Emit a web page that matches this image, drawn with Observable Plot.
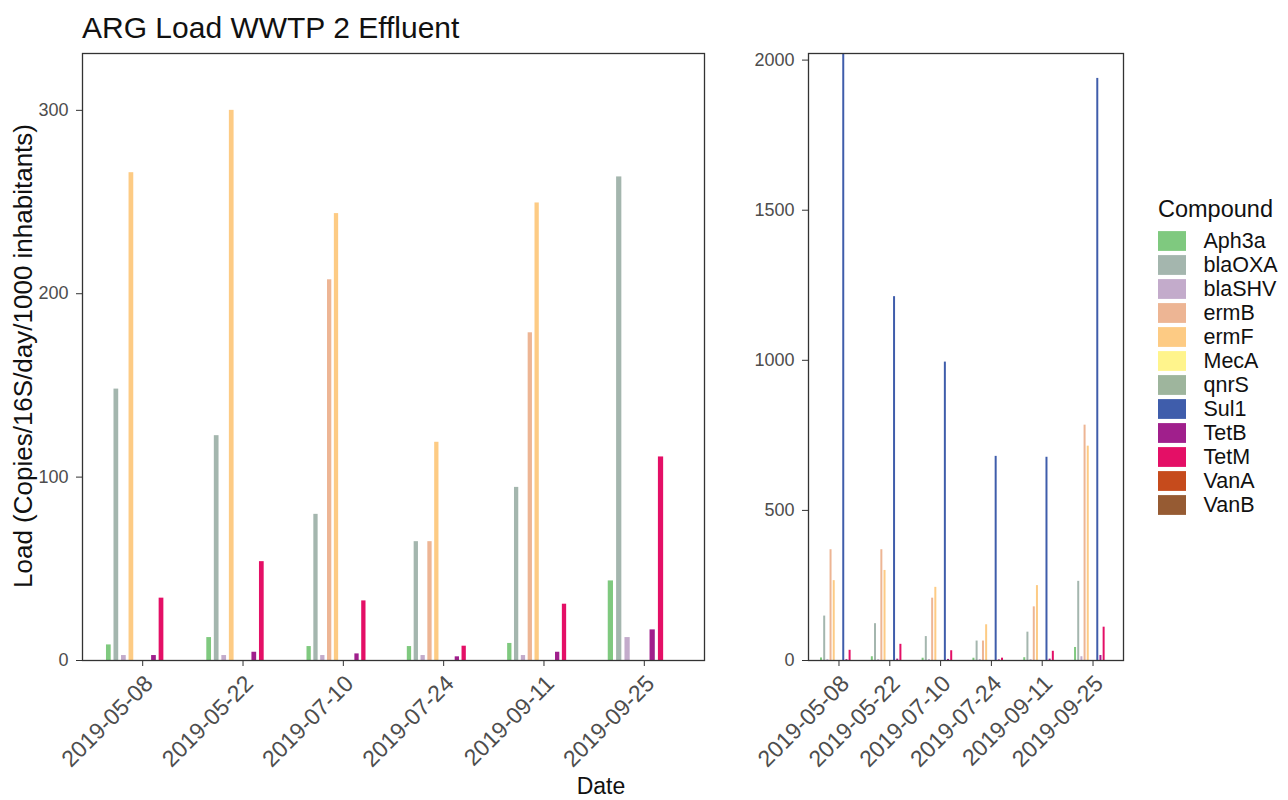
<!DOCTYPE html>
<html><head><meta charset="utf-8">
<script src="https://cdn.jsdelivr.net/npm/d3@7"></script>
<script src="https://cdn.jsdelivr.net/npm/@observablehq/plot@0.6"></script>
<style>
body{margin:0;background:#fff;}
#wrap{position:relative;width:1288px;height:800px;background:#fff;font-family:"Liberation Sans",Arial,sans-serif;overflow:hidden;}
#wrap > *{position:absolute;}
</style></head><body><div id="wrap"></div>
<script>
// ---- data ----
const dates = ["2019-05-08","2019-05-22","2019-07-10","2019-07-24","2019-09-11","2019-09-25"];
const compounds = ["Aph3a","blaOXA","blaSHV","ermB","ermF","MecA","qnrS","Sul1","TetB","TetM","VanA","VanB"];
const colors = ["#7fc97f","#a4b6ae","#c3abcb","#edb594","#fdcb84","#fff48c","#9eb59d","#3f5dab","#a01f8c","#e40f66","#c64b1c","#965b33"];
const Aph3a  = [8.5, 12.5, 7.6, 7.6, 9.3, 43.4];
const blaOXA = [148, 122.6, 79.7, 64.8, 94.4, 263.7];
const blaSHV = [2.7, 2.7, 2.7, 2.7, 2.7, 12.5];
const ermB   = [369, 369, 207.6, 64.8, 178.7, 784];
const ermF   = [266, 300, 243.7, 119, 249.5, 714];
const MecA   = [0, 0, 0, 0, 0, 0];
const qnrS   = [0, 0, 0, 0, 0, 0];
const Sul1   = [2500, 1212, 994, 680, 677, 1939];
const TetB   = [2.7, 4.5, 3.6, 2.0, 4.5, 16.7];
const TetM   = [34, 53.9, 32.5, 7.8, 30.7, 111];
const VanA   = [0, 0, 0, 0, 0, 0];
const VanB   = [0, 0, 0, 0, 0, 0];
const leftTicks = [0, 100, 200, 300];
const rightTicks = [0, 500, 1000, 1500, 2000];

const series = [Aph3a, blaOXA, blaSHV, ermB, ermF, MecA, qnrS, Sul1, TetB, TetM, VanA, VanB];
const rows = compounds.flatMap((c, ci) => dates.map((d, di) => ({date: d, di: di + 1, compound: c, value: series[ci][di]})));

const LEFT_MAX = 331, RIGHT_MAX = 2022;
const WD = 0.75, WB = 0.47; // dodge width, bar width (band units)
function dodge(rs) {
  const out = [];
  for (const [, grp] of d3.group(rs, r => r.di)) {
    const n = grp.length;
    grp.forEach((r, i) => {
      const c = r.di + WD * ((i + 0.5) / n - 0.5);
      out.push({...r, x1: c - WB / n / 2, x2: c + WB / n / 2});
    });
  }
  return out;
}
const leftBars = dodge(rows.filter(r => r.value <= LEFT_MAX));
const rightBars = dodge(rows);

const font = '"Liberation Sans", Arial, sans-serif';
const colorScale = {domain: compounds, range: colors};

function panel({width, marginLeft, marginRight, ymax, ticks, bars}) {
  return Plot.plot({
    width, height: 800, marginLeft, marginRight, marginTop: 53, marginBottom: 140,
    style: {fontFamily: font, background: "transparent", overflow: "visible"},
    x: {domain: [0.4, 6.6], axis: null},
    y: {domain: [0, ymax], clamp: true, axis: null},
    color: colorScale,
    marks: [
      Plot.rect(bars, {x1: "x1", x2: "x2", y1: 0, y2: "value", fill: "compound"}),
      Plot.frame({stroke: "#333", strokeWidth: 1.3}),
      Plot.axisY({ticks, tickFormat: d => String(d), tickSize: 6, tickPadding: 8, fontSize: 18, fill: "#4d4d4d", stroke: "#333", label: null}),
      Plot.axisX({ticks: [1, 2, 3, 4, 5, 6], tickFormat: i => dates[i - 1], tickSize: 6, tickPadding: 7,
        tickRotate: -45, textAnchor: "end", lineAnchor: "top", fontSize: 23, fill: "#4d4d4d", stroke: "#333", label: null})
    ]
  });
}

const wrap = document.getElementById("wrap");
const left = panel({width: 720, marginLeft: 82, marginRight: 16, ymax: LEFT_MAX, ticks: leftTicks, bars: leftBars});
left.style.left = "0px"; left.style.top = "0px";
wrap.appendChild(left);

const right = panel({width: 420, marginLeft: 88, marginRight: 17, ymax: RIGHT_MAX, ticks: rightTicks, bars: rightBars});
right.style.left = "720px"; right.style.top = "0px";
wrap.appendChild(right);

const legend = Plot.plot({
  width: 148, height: 340, marginLeft: 0, marginRight: 0, marginTop: 37.9, marginBottom: 340 - 37.9 - 24.2 * 12,
  style: {fontFamily: font, background: "transparent", overflow: "visible"},
  x: {type: "band", domain: ["k"], range: [18, 46], padding: 0, axis: null},
  y: {type: "band", domain: compounds, padding: 0, axis: null},
  color: colorScale,
  marks: [
    Plot.cell(compounds, {x: () => "k", y: d => d, fill: d => d, insetTop: 2.1, insetBottom: 2.1}),
    Plot.text(compounds, {x: () => "k", y: d => d, text: d => d, textAnchor: "start", dx: 31, fontSize: 21.5, fill: "#111"})
  ]
});
legend.style.left = "1140px"; legend.style.top = "190px";
wrap.appendChild(legend);

// overlay text
const svg = d3.create("svg").attr("width", 1288).attr("height", 800)
  .style("left", "0px").style("top", "0px").style("pointer-events", "none")
  .style("font-family", font);
svg.append("text").attr("x", 82).attr("y", 38).attr("font-size", 30).attr("fill", "#111").text("ARG Load WWTP 2 Effluent");
svg.append("text").attr("transform", "translate(32,356) rotate(-90)").attr("text-anchor", "middle")
  .attr("font-size", 26).attr("fill", "#111").text("Load (Copies/16S/day/1000 inhabitants)");
svg.append("text").attr("x", 601).attr("y", 794).attr("text-anchor", "middle").attr("font-size", 23).attr("fill", "#111").text("Date");
svg.append("text").attr("x", 1158).attr("y", 217).attr("font-size", 23.5).attr("fill", "#111").text("Compound");
wrap.appendChild(svg.node());
</script></body></html>
